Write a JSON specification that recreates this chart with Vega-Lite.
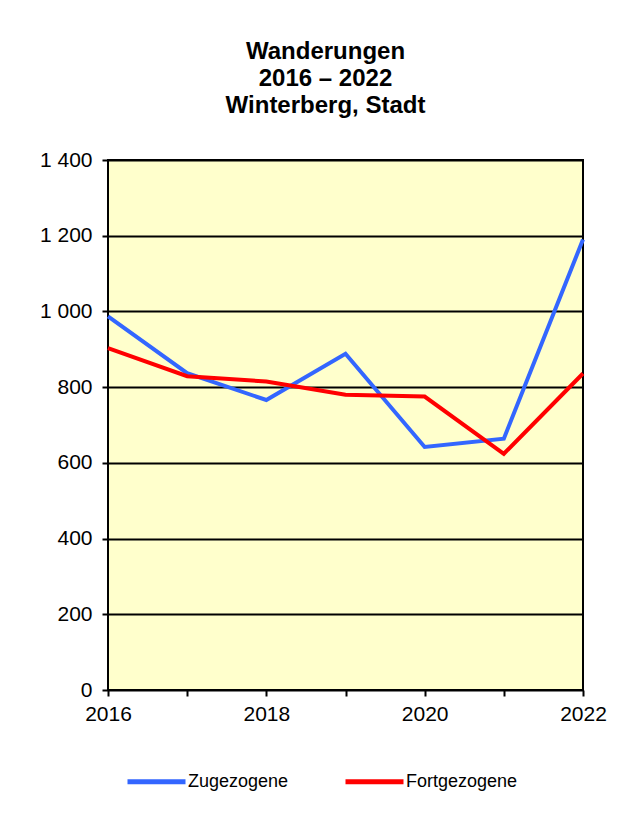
{
  "$schema": "https://vega.github.io/schema/vega-lite/v6.json",
  "autosize": "none",
  "width": 475,
  "height": 530,
  "padding": {"left": 108, "top": 160, "right": 38, "bottom": 124},
  "background": "white",
  "title": {
    "text": ["Wanderungen", "2016 – 2022", "Winterberg, Stadt"],
    "font": "Liberation Sans",
    "fontSize": 24,
    "fontWeight": "bold",
    "color": "black",
    "lineHeight": 27,
    "anchor": "middle",
    "dx": -20,
    "offset": 31
  },
  "config": {
    "view": {"fill": "#FFFFCC", "stroke": "black", "strokeWidth": 2},
    "font": "Liberation Sans"
  },
  "data": {
    "values": [
      {"Jahr": 2016, "Art": "Zugezogene", "Wert": 987},
      {"Jahr": 2017, "Art": "Zugezogene", "Wert": 837},
      {"Jahr": 2018, "Art": "Zugezogene", "Wert": 766},
      {"Jahr": 2019, "Art": "Zugezogene", "Wert": 888},
      {"Jahr": 2020, "Art": "Zugezogene", "Wert": 642},
      {"Jahr": 2021, "Art": "Zugezogene", "Wert": 664},
      {"Jahr": 2022, "Art": "Zugezogene", "Wert": 1190},
      {"Jahr": 2016, "Art": "Fortgezogene", "Wert": 903},
      {"Jahr": 2017, "Art": "Fortgezogene", "Wert": 829},
      {"Jahr": 2018, "Art": "Fortgezogene", "Wert": 815},
      {"Jahr": 2019, "Art": "Fortgezogene", "Wert": 780},
      {"Jahr": 2020, "Art": "Fortgezogene", "Wert": 775},
      {"Jahr": 2021, "Art": "Fortgezogene", "Wert": 624},
      {"Jahr": 2022, "Art": "Fortgezogene", "Wert": 836}
    ]
  },
  "mark": {"type": "line", "strokeWidth": 4, "clip": false},
  "encoding": {
    "x": {
      "field": "Jahr",
      "type": "quantitative",
      "scale": {"domain": [2016, 2022], "nice": false, "zero": false},
      "axis": {
        "title": null,
        "values": [2016, 2017, 2018, 2019, 2020, 2021, 2022],
        "labelExpr": "datum.value % 2 == 0 ? datum.value + '' : ''",
        "grid": false,
        "domain": false,
        "tickColor": "black",
        "tickWidth": 2,
        "tickSize": 6,
        "labelFontSize": 21,
        "labelColor": "black",
        "labelPadding": 7,
        "labelFlush": false
      }
    },
    "y": {
      "field": "Wert",
      "type": "quantitative",
      "scale": {"domain": [0, 1400], "nice": false},
      "axis": {
        "title": null,
        "values": [0, 200, 400, 600, 800, 1000, 1200, 1400],
        "format": ",d",
        "labelExpr": "replace(datum.label, ',', ' ')",
        "grid": true,
        "gridColor": "black",
        "gridWidth": 2,
        "gridOpacity": 1,
        "domain": false,
        "tickColor": "black",
        "tickWidth": 2,
        "tickSize": 6,
        "labelFontSize": 21,
        "labelColor": "black",
        "labelPadding": 10
      }
    },
    "color": {
      "field": "Art",
      "type": "nominal",
      "sort": ["Zugezogene", "Fortgezogene"],
      "scale": {"domain": ["Zugezogene", "Fortgezogene"], "range": ["#3366FF", "#FF0000"]},
      "legend": {
        "title": null,
        "orient": "none",
        "legendX": 17,
        "legendY": 590,
        "direction": "horizontal",
        "symbolType": "stroke",
        "symbolSize": 3364,
        "symbolStrokeWidth": 5,
        "labelFontSize": 18,
        "labelColor": "black",
        "labelOffset": 0,
        "columnPadding": 46,
        "symbolOffset": 0
      }
    }
  }
}
